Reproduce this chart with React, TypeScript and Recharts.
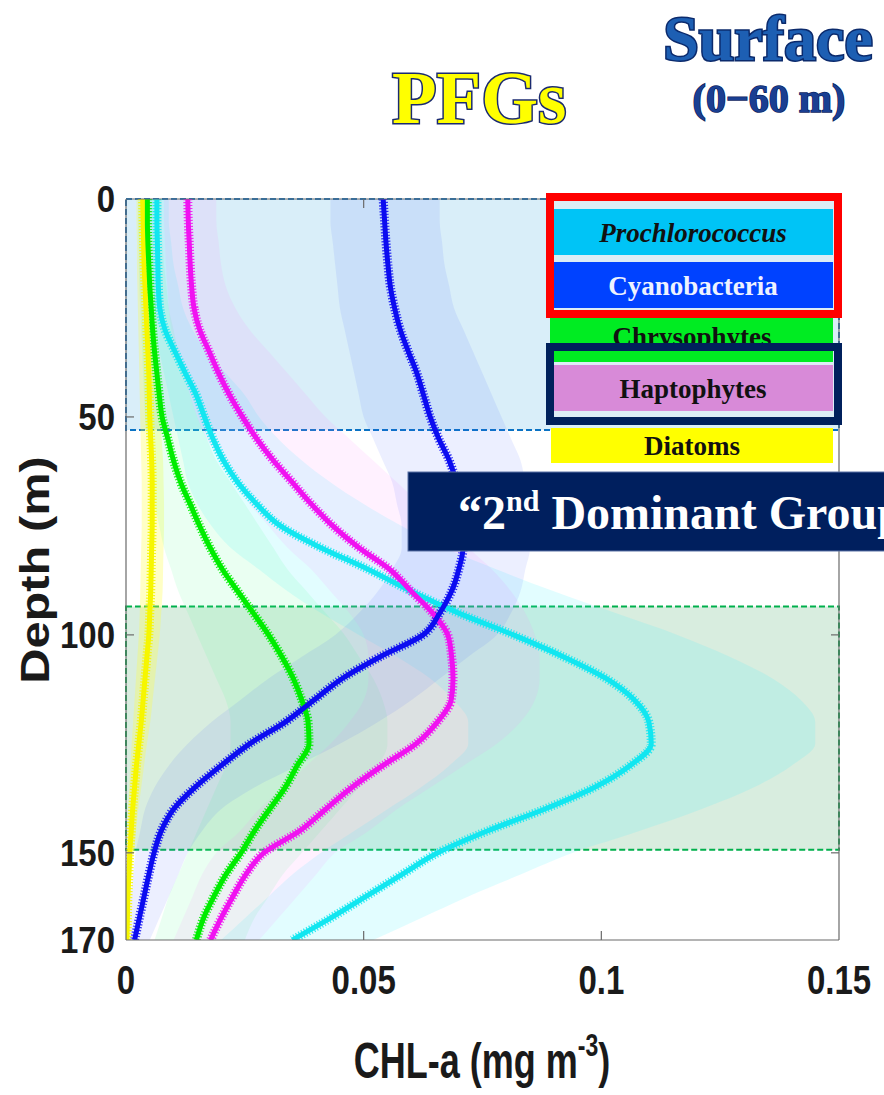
import React from 'react';
import { ComposedChart, Line, Area, XAxis, YAxis, ReferenceArea } from 'recharts';

// Depth grid (m)
const depths = [0, 5, 10, 15, 20, 25, 30, 35, 40, 45, 50, 55, 60, 65, 70, 75, 80, 85, 90, 95, 100, 105, 110, 115, 120, 125, 130, 135, 140, 145, 150, 155, 160, 165, 170];

// Mean CHL-a profiles (mg m-3)
const prochlorococcus = [0.0065, 0.0065, 0.0066, 0.0067, 0.0068, 0.0071, 0.0082, 0.0103, 0.0125, 0.0148, 0.0165, 0.0183, 0.0205, 0.0235, 0.0275, 0.0325, 0.041, 0.051, 0.06, 0.07, 0.0815, 0.092, 0.101, 0.107, 0.11, 0.1105, 0.106, 0.0985, 0.088, 0.076, 0.0656, 0.058, 0.0505, 0.043, 0.035];
const cyanobacteria = [0.0541, 0.0544, 0.0547, 0.0551, 0.0556, 0.0565, 0.0577, 0.0594, 0.0612, 0.0626, 0.064, 0.0658, 0.068, 0.0695, 0.0703, 0.0708, 0.0709, 0.07, 0.0685, 0.066, 0.0625, 0.0535, 0.0455, 0.0395, 0.0335, 0.026, 0.02, 0.0145, 0.01, 0.0074, 0.0059, 0.0048, 0.0038, 0.0028, 0.0018];
const chrysophytes = [0.0045, 0.0045, 0.0046, 0.0048, 0.005, 0.0053, 0.0056, 0.006, 0.0065, 0.007, 0.0076, 0.0088, 0.01, 0.0115, 0.0135, 0.0155, 0.0177, 0.0203, 0.0235, 0.0268, 0.03, 0.0328, 0.0352, 0.037, 0.0383, 0.0385, 0.036, 0.0335, 0.0302, 0.027, 0.0242, 0.021, 0.0185, 0.0163, 0.0148];
const haptophytes = [0.013, 0.0131, 0.0133, 0.0135, 0.0138, 0.0143, 0.0155, 0.0175, 0.0195, 0.0218, 0.0245, 0.0275, 0.031, 0.035, 0.039, 0.0435, 0.049, 0.0555, 0.06, 0.0645, 0.0677, 0.0685, 0.0688, 0.0684, 0.0655, 0.061, 0.054, 0.0475, 0.042, 0.0365, 0.029, 0.0252, 0.0225, 0.02, 0.0178];
const diatoms = [0.0035, 0.0036, 0.0037, 0.0038, 0.004, 0.0042, 0.0044, 0.0046, 0.0048, 0.0049, 0.005, 0.0052, 0.0054, 0.0055, 0.0055, 0.0055, 0.0054, 0.0053, 0.0052, 0.005, 0.0048, 0.0044, 0.004, 0.0036, 0.0032, 0.0027, 0.0022, 0.0018, 0.0014, 0.0011, 0.0008, 0.0006, 0.0004, 0.0003, 0.0002];

// Spread envelopes (lower / upper bound)
const prochlorococcusLow = [0.004, 0.004, 0.0042, 0.0044, 0.0046, 0.0048, 0.0055, 0.007, 0.008, 0.009, 0.01, 0.011, 0.012, 0.013, 0.015, 0.018, 0.022, 0.028, 0.034, 0.041, 0.049, 0.057, 0.064, 0.069, 0.072, 0.072, 0.068, 0.062, 0.055, 0.048, 0.041, 0.035, 0.03, 0.025, 0.02];
const prochlorococcusHigh = [0.009, 0.009, 0.0095, 0.01, 0.011, 0.012, 0.014, 0.017, 0.021, 0.025, 0.028, 0.032, 0.037, 0.043, 0.05, 0.058, 0.067, 0.078, 0.09, 0.103, 0.116, 0.127, 0.136, 0.142, 0.145, 0.145, 0.14, 0.132, 0.121, 0.108, 0.094, 0.083, 0.072, 0.062, 0.052];
const cyanobacteriaLow = [0.043, 0.043, 0.0435, 0.044, 0.0445, 0.045, 0.046, 0.047, 0.048, 0.049, 0.05, 0.052, 0.054, 0.056, 0.057, 0.058, 0.058, 0.056, 0.053, 0.049, 0.044, 0.037, 0.03, 0.024, 0.018, 0.013, 0.009, 0.006, 0.004, 0.003, 0.002, 0.0015, 0.001, 0.0008, 0.0005];
const cyanobacteriaHigh = [0.066, 0.066, 0.0665, 0.067, 0.068, 0.069, 0.071, 0.073, 0.075, 0.077, 0.079, 0.081, 0.083, 0.084, 0.085, 0.085, 0.085, 0.084, 0.083, 0.081, 0.078, 0.072, 0.066, 0.06, 0.053, 0.045, 0.036, 0.027, 0.02, 0.016, 0.013, 0.011, 0.009, 0.007, 0.005];
const chrysophytesLow = [0.0025, 0.0025, 0.0026, 0.0027, 0.0028, 0.003, 0.0032, 0.0034, 0.0036, 0.0038, 0.004, 0.0045, 0.005, 0.0055, 0.006, 0.007, 0.008, 0.0095, 0.011, 0.013, 0.015, 0.017, 0.019, 0.021, 0.022, 0.022, 0.021, 0.019, 0.017, 0.015, 0.013, 0.011, 0.009, 0.0075, 0.006];
const chrysophytesHigh = [0.0075, 0.0075, 0.0077, 0.008, 0.0085, 0.009, 0.01, 0.011, 0.012, 0.0135, 0.015, 0.017, 0.019, 0.022, 0.025, 0.028, 0.031, 0.034, 0.038, 0.042, 0.046, 0.049, 0.052, 0.054, 0.055, 0.055, 0.053, 0.049, 0.045, 0.041, 0.037, 0.033, 0.03, 0.027, 0.025];
const haptophytesLow = [0.008, 0.008, 0.0082, 0.0084, 0.0087, 0.009, 0.0095, 0.0105, 0.012, 0.0135, 0.015, 0.017, 0.02, 0.023, 0.026, 0.03, 0.034, 0.039, 0.043, 0.047, 0.05, 0.051, 0.051, 0.05, 0.047, 0.043, 0.038, 0.033, 0.028, 0.024, 0.019, 0.016, 0.014, 0.012, 0.01];
const haptophytesHigh = [0.019, 0.019, 0.0195, 0.02, 0.021, 0.023, 0.026, 0.03, 0.034, 0.038, 0.042, 0.047, 0.052, 0.057, 0.062, 0.067, 0.072, 0.077, 0.081, 0.084, 0.086, 0.087, 0.087, 0.086, 0.083, 0.078, 0.071, 0.064, 0.057, 0.051, 0.044, 0.04, 0.036, 0.032, 0.028];
const diatomsLow = [0.0022, 0.0022, 0.0023, 0.0023, 0.0024, 0.0025, 0.0026, 0.0027, 0.0028, 0.0029, 0.003, 0.0031, 0.0032, 0.0033, 0.0033, 0.0033, 0.0032, 0.0031, 0.003, 0.0029, 0.0027, 0.0024, 0.0021, 0.0018, 0.0015, 0.0012, 0.0009, 0.0007, 0.0005, 0.0004, 0.0003, 0.0002, 0.0001, 0.0001, 0];
const diatomsHigh = [0.005, 0.0051, 0.0052, 0.0054, 0.0057, 0.006, 0.0063, 0.0066, 0.0069, 0.0071, 0.0073, 0.0075, 0.0078, 0.0079, 0.008, 0.008, 0.0079, 0.0078, 0.0077, 0.0074, 0.0071, 0.0066, 0.0061, 0.0056, 0.0051, 0.0044, 0.0038, 0.0032, 0.0026, 0.0021, 0.0016, 0.0012, 0.0009, 0.0007, 0.0005];

// Axis ticks
const xTicks = [0, 0.05, 0.1, 0.15];
const yTicks = [0, 50, 100, 150, 170];
const innerYTicks = [50, 100, 150];
const innerXTicks = [0.05, 0.1];

type Group = { key: string; mean: number[]; low: number[]; high: number[]; line: string; band: string; bandOpacity: number };

// Drawing order: first is at the bottom
const groups: Group[] = [
  { key: 'dia', mean: diatoms, low: diatomsLow, high: diatomsHigh, line: '#f6f600', band: '#ffff40', bandOpacity: 0.3 },
  { key: 'pro', mean: prochlorococcus, low: prochlorococcusLow, high: prochlorococcusHigh, line: '#12e6f0', band: '#30f0ff', bandOpacity: 0.14 },
  { key: 'chr', mean: chrysophytes, low: chrysophytesLow, high: chrysophytesHigh, line: '#00ec00', band: '#50ff90', bandOpacity: 0.12 },
  { key: 'hap', mean: haptophytes, low: haptophytesLow, high: haptophytesHigh, line: '#f012f0', band: '#ff80ff', bandOpacity: 0.11 },
  { key: 'cya', mean: cyanobacteria, low: cyanobacteriaLow, high: cyanobacteriaHigh, line: '#0c0cf0', band: '#4060ff', bandOpacity: 0.1 },
];

const data = depths.map((d, i) => {
  const row: Record<string, number | number[]> = { depth: d };
  groups.forEach((g) => {
    row[g.key] = g.mean[i];
    row[g.key + 'Band'] = [g.low[i], g.high[i]];
  });
  return row;
});

const AXIS = '#6a6a6a';
const SANS = '"Liberation Sans", Arial, Helvetica, sans-serif';
const SERIF = '"Liberation Serif", "Times New Roman", serif';

const BottomTick = (p: any) => (
  <g>
    {innerXTicks.includes(p.payload.value) && (
      <line x1={p.x} y1={p.y} x2={p.x} y2={p.y - 9} stroke={AXIS} strokeWidth={1.2} />
    )}
    <text transform={`translate(${p.x}, ${p.y + 54}) scale(1, 1.25)`} textAnchor="middle" fontFamily={SANS} fontWeight="bold" fontSize={33} fill="#1a1a1a">
      {String(p.payload.value)}
    </text>
  </g>
);

const LeftTick = (p: any) => (
  <g>
    {innerYTicks.includes(p.payload.value) && (
      <line x1={p.x} y1={p.y} x2={p.x + 8} y2={p.y} stroke={AXIS} strokeWidth={1.2} />
    )}
    <text transform={`translate(${p.x - 11}, ${p.y + 13}) scale(1, 1.12)`} textAnchor="end" fontFamily={SANS} fontWeight="bold" fontSize={33} fill="#1a1a1a">
      {String(p.payload.value)}
    </text>
  </g>
);

const TopTick = (p: any) => (
  <line x1={p.x} y1={p.y} x2={p.x} y2={p.y + 9} stroke={AXIS} strokeWidth={1.2} />
);

const RightTick = (p: any) => (
  <line x1={p.x} y1={p.y} x2={p.x - 8} y2={p.y} stroke={AXIS} strokeWidth={1.2} />
);

function Overlay() {
  return (
    <svg width={884} height={1095} style={{ position: 'absolute', left: 0, top: 0, pointerEvents: 'none' }}>
      {/* Titles */}
      <text x={392} y={123} fontFamily={SERIF} fontWeight="bold" fontSize={73} fill="#ffff00" stroke="#1b2b70" strokeWidth={3} paintOrder="stroke">PFGs</text>
      <text x={768} y={60} textAnchor="middle" fontFamily={SERIF} fontWeight="bold" fontSize={64} fill="#1d5fb3" stroke="#0b2a6c" strokeWidth={3} paintOrder="stroke">Surface</text>
      <text x={769} y={112} textAnchor="middle" fontFamily={SERIF} fontWeight="bold" fontSize={40} fill="#1a3f92" stroke="#0b2460" strokeWidth={1.5} paintOrder="stroke">(0−60 m)</text>

      {/* Axis titles */}
      <text transform="translate(49, 570) rotate(-90) scale(1.22, 1)" textAnchor="middle" fontFamily={SANS} fontWeight="bold" fontSize={40} fill="#1a1a1a">Depth (m)</text>
      <text transform="translate(482, 1078) scale(1, 1.4)" textAnchor="middle" fontFamily={SANS} fontWeight="bold" fontSize={36} fill="#1a1a1a">
        CHL-a (mg m<tspan fontSize={23} dy={-16}>-3</tspan><tspan dy={16}>)</tspan>
      </text>

      {/* Group key */}
      <rect x={550} y={197} width={288} height={117} fill="#dcedf6" stroke="#ff0000" strokeWidth={8} />
      <rect x={554} y={209} width={279} height={46} fill="#00c4f6" />
      <text x={693} y={233} textAnchor="middle" dominantBaseline="central" fontFamily={SERIF} fontStyle="italic" fontWeight="bold" fontSize={27} fill="#111">Prochlorococcus</text>
      <rect x={554} y={262} width={279} height={46} fill="#0042ff" />
      <text x={693} y={286} textAnchor="middle" dominantBaseline="central" fontFamily={SERIF} fontWeight="bold" fontSize={27} fill="#eef2ff">Cyanobacteria</text>

      <rect x={550} y={318} width={283} height={44} fill="#00ec22" />
      <text x={692} y={337} textAnchor="middle" dominantBaseline="central" fontFamily={SERIF} fontWeight="bold" fontSize={27} fill="#111">Chrysophytes</text>

      <rect x={550} y={347} width={288} height={74} fill="#dcedf6" stroke="#00205c" strokeWidth={8} />
      <rect x={554} y={351} width={279} height={11} fill="#00ec22" />
      <rect x={554} y={365} width={279} height={46} fill="#d88ad8" />
      <text x={693} y={389} textAnchor="middle" dominantBaseline="central" fontFamily={SERIF} fontWeight="bold" fontSize={27} fill="#111">Haptophytes</text>

      <rect x={551} y={428} width={282} height={35} fill="#ffff00" />
      <text x={692} y={446} textAnchor="middle" dominantBaseline="central" fontFamily={SERIF} fontWeight="bold" fontSize={27} fill="#111">Diatoms</text>

      {/* Banner */}
      <rect x={408} y={472} width={500} height={79} fill="#001f5e" stroke="#5b73a6" strokeWidth={1} />
      <text x={458} y={529} fontFamily={SERIF} fontWeight="bold" fontSize={48} fill="#ffffff">
        “2<tspan fontSize={30} dy={-18}>nd</tspan><tspan dy={18}> Dominant Group”</tspan>
      </text>
    </svg>
  );
}

export default function App() {
  return (
    <div style={{ position: 'absolute', left: 0, top: 0, width: 884, height: 1095, overflow: 'hidden', background: '#ffffff' }}>
      <ComposedChart
        width={884}
        height={1095}
        data={data}
        layout="vertical"
        margin={{ top: 198, right: 44, bottom: 154, left: 125 }}
      >
        <XAxis
          type="number"
          domain={[0, 0.15]}
          ticks={xTicks}
          interval={0}
          allowDataOverflow
          height={1}
          tickSize={0}
          tickMargin={0}
          tickLine={false}
          axisLine={{ stroke: AXIS, strokeWidth: 1.2 }}
          tick={BottomTick}
        />
        <XAxis
          xAxisId="top"
          orientation="top"
          type="number"
          domain={[0, 0.15]}
          ticks={innerXTicks}
          interval={0}
          allowDataOverflow
          height={1}
          tickSize={0}
          tickMargin={0}
          tickLine={false}
          axisLine={{ stroke: AXIS, strokeWidth: 1.2 }}
          tick={TopTick}
        />
        <YAxis
          type="number"
          dataKey="depth"
          domain={[0, 170]}
          ticks={yTicks}
          interval={0}
          allowDataOverflow
          width={1}
          tickSize={0}
          tickMargin={0}
          tickLine={false}
          axisLine={{ stroke: AXIS, strokeWidth: 1.2 }}
          tick={LeftTick}
        />
        <YAxis
          yAxisId="right"
          orientation="right"
          type="number"
          dataKey="depth"
          domain={[0, 170]}
          ticks={innerYTicks}
          interval={0}
          allowDataOverflow
          width={1}
          tickSize={0}
          tickMargin={0}
          tickLine={false}
          axisLine={{ stroke: AXIS, strokeWidth: 1.2 }}
          tick={RightTick}
        />

        {/* Highlighted depth layers */}
        <ReferenceArea x1={0} x2={0.15} y1={0} y2={53} fill="#b9e0f4" fillOpacity={0.55} stroke="#0a72c4" strokeWidth={2} strokeDasharray="6 3" />
        <ReferenceArea x1={0} x2={0.15} y1={93.5} y2={149.3} fill="#a8d8b8" fillOpacity={0.45} stroke="#00b04c" strokeWidth={2} strokeDasharray="6 3" />

        {groups.map((g) => (
          <Area
            key={g.key + 'Band'}
            dataKey={g.key + 'Band'}
            type="monotone"
            stroke="none"
            fill={g.band}
            fillOpacity={g.bandOpacity}
            isAnimationActive={false}
            activeDot={false}
          />
        ))}

        {groups.map((g) => (
          <Line
            key={g.key + 'Fringe'}
            dataKey={g.key}
            type="monotone"
            stroke={g.line}
            strokeWidth={9}
            strokeDasharray="1.2 1.8"
            strokeOpacity={0.85}
            dot={false}
            activeDot={false}
            isAnimationActive={false}
          />
        ))}
        {groups.map((g) => (
          <Line
            key={g.key + 'Core'}
            dataKey={g.key}
            type="monotone"
            stroke={g.line}
            strokeWidth={5}
            dot={false}
            activeDot={false}
            isAnimationActive={false}
          />
        ))}
      </ComposedChart>
      <Overlay />
    </div>
  );
}
